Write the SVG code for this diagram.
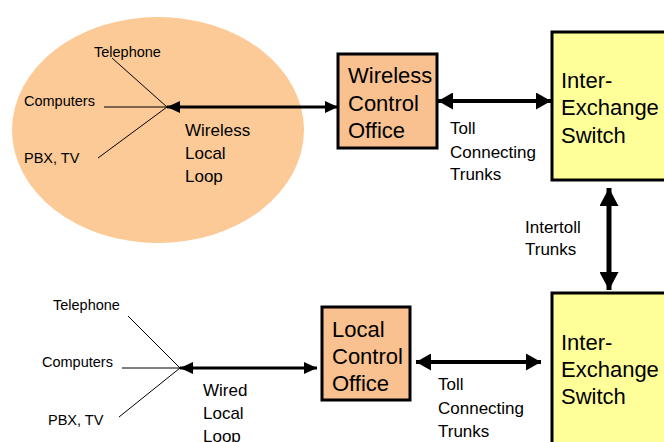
<svg xmlns="http://www.w3.org/2000/svg" width="664" height="442" viewBox="0 0 664 442">
<style>
text{font-family:"Liberation Sans",Arial,sans-serif;fill:#000}
.s{font-size:14.5px}
.m{font-size:17px}
.b{font-size:22px}
.box{stroke:#000;stroke-width:3}
.peach{fill:#F9C18F}
.yel{fill:#FFFF99}
.thin{stroke:#000;stroke-width:1;fill:none}
.a1{stroke:#000;stroke-width:3;fill:none;marker-start:url(#h1);marker-end:url(#h1)}
.a2{stroke:#000;stroke-width:4;fill:none;marker-start:url(#h2);marker-end:url(#h2)}
.a3{stroke:#000;stroke-width:5;fill:none;marker-start:url(#h3);marker-end:url(#h3)}
</style>
<defs>
<marker id="h1" markerUnits="userSpaceOnUse" markerWidth="13" markerHeight="12" refX="13" refY="6" orient="auto-start-reverse"><path d="M0,0L13,6L0,12z" fill="#000"/></marker>
<marker id="h2" markerUnits="userSpaceOnUse" markerWidth="15" markerHeight="17" refX="15" refY="8.5" orient="auto-start-reverse"><path d="M0,0L15,8.5L0,17z" fill="#000"/></marker>
<marker id="h3" markerUnits="userSpaceOnUse" markerWidth="18" markerHeight="19" refX="18" refY="9.5" orient="auto-start-reverse"><path d="M0,0L18,9.5L0,19z" fill="#000"/></marker>
</defs>
<rect width="664" height="442" fill="#fff"/>
<g id="wireless-area">
<ellipse cx="158" cy="130" rx="146" ry="113" fill="#FBCA97"/>
<text class="s" x="94" y="57">Telephone</text>
<text class="s" x="24" y="106">Computers</text>
<text class="s" x="24" y="163">PBX, TV</text>
</g>
<g id="wired-area">
<text class="s" x="53" y="310">Telephone</text>
<text class="s" x="42" y="367">Computers</text>
<text class="s" x="48" y="425">PBX, TV</text>
</g>
<g id="wireless-control-office">
<rect class="box peach" x="338" y="54" width="99" height="94"/>
<text class="b" x="348" y="83">Wireless</text>
<text class="b" x="348" y="111">Control</text>
<text class="b" x="348" y="138">Office</text>
</g>
<g id="inter-exchange-switch-top">
<rect class="box yel" x="552" y="32" width="120" height="148"/>
<text class="b" x="561" y="88">Inter-</text>
<text class="b" x="561" y="115">Exchange</text>
<text class="b" x="561" y="143">Switch</text>
</g>
<g id="local-control-office">
<rect class="box peach" x="322" y="307" width="88" height="93"/>
<text class="b" x="332" y="337">Local</text>
<text class="b" x="332" y="364">Control</text>
<text class="b" x="332" y="391">Office</text>
</g>
<g id="inter-exchange-switch-bottom">
<rect class="box yel" x="552" y="293" width="120" height="160"/>
<text class="b" x="561" y="350">Inter-</text>
<text class="b" x="561" y="377">Exchange</text>
<text class="b" x="561" y="404">Switch</text>
</g>
<g id="connectors">
<path class="thin" d="M112,58L167,107M104,107H167M98,158L167,107"/>
<path class="thin" d="M128,316L180,368M122,368H180M119,417L180,368"/>
<path class="a1" d="M167,107H338"/>
<path class="a1" d="M180,368H317"/>
<path class="a2" d="M438,101H551"/>
<path class="a2" d="M416,362H541"/>
<path class="a3" d="M609,188V290"/>
<text class="m" x="185" y="136">Wireless</text>
<text class="m" x="185" y="159">Local</text>
<text class="m" x="185" y="182">Loop</text>
<text class="m" x="203" y="396">Wired</text>
<text class="m" x="203" y="419">Local</text>
<text class="m" x="203" y="442">Loop</text>
<text class="m" x="450" y="134">Toll</text>
<text class="m" x="450" y="158">Connecting</text>
<text class="m" x="450" y="180">Trunks</text>
<text class="m" x="438" y="390">Toll</text>
<text class="m" x="438" y="414">Connecting</text>
<text class="m" x="438" y="437">Trunks</text>
<text class="m" x="525" y="233">Intertoll</text>
<text class="m" x="525" y="255">Trunks</text>
</g>
</svg>
